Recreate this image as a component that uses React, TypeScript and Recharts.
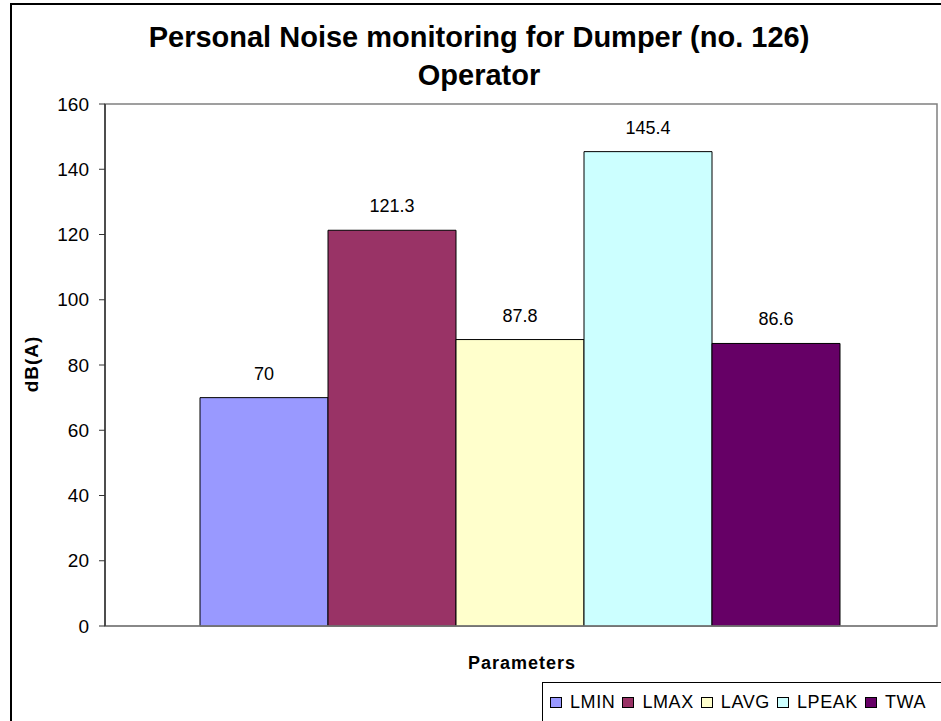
import React from 'react';
import { BarChart, Bar, XAxis, YAxis, LabelList, ReferenceArea } from 'recharts';

const seriesNames = ['LMIN', 'LMAX', 'LAVG', 'LPEAK', 'TWA'];
const seriesValues = [70, 121.3, 87.8, 145.4, 86.6];
const seriesColors = ['#9999FF', '#993366', '#FFFFCC', '#CCFFFF', '#660066'];
const yTicks = [0, 20, 40, 60, 80, 100, 120, 140, 160];
const titleLines = ['Personal Noise monitoring for Dumper (no. 126)', 'Operator'];
const xTitle = 'Parameters';
const yTitle = 'dB(A)';

const row: Record<string, string | number> = { group: 'Parameters' };
seriesNames.forEach((n, i) => {
  row[n] = seriesValues[i];
});
const data = [row];

const FONT = '"Liberation Sans", Arial, sans-serif';

export default function App() {
  return (
    <div
      style={{
        position: 'absolute',
        left: 0,
        top: 0,
        width: 941,
        height: 721,
        overflow: 'hidden',
        background: '#fff',
        fontFamily: FONT,
      }}
    >
      <div
        style={{
          position: 'absolute',
          left: 10,
          top: 3,
          width: 1000,
          height: 1000,
          border: '2px solid #000',
        }}
      />
      {titleLines.map((t, i) => (
        <div
          key={i}
          style={{
            position: 'absolute',
            left: 0,
            width: 958,
            top: 20 + i * 38,
            textAlign: 'center',
            fontSize: 29,
            fontWeight: 'bold',
            lineHeight: '34px',
            color: '#000',
            whiteSpace: 'nowrap',
          }}
        >
          {t}
        </div>
      ))}
      <div style={{ position: 'absolute', left: 0, top: 0 }}>
        <BarChart
          width={941}
          height={721}
          data={data}
          margin={{ top: 104, right: 4, left: 45, bottom: 65 }}
          barCategoryGap={95}
          barGap={0}
        >
          <ReferenceArea
            y1={0}
            y2={160}
            fill="none"
            stroke="#808080"
            strokeWidth={1.5}
            ifOverflow="visible"
          />
          <XAxis
            dataKey="group"
            tick={false}
            tickLine={false}
            axisLine={{ stroke: '#808080', strokeWidth: 1.5 }}
            height={30}
          />
          <YAxis
            domain={[0, 160]}
            ticks={yTicks}
            interval={0}
            width={60}
            tickSize={6}
            tickMargin={10}
            tick={{ fontSize: 19, fill: '#000', fontFamily: FONT }}
            tickLine={{ stroke: '#333' }}
            axisLine={{ stroke: '#333', strokeWidth: 1.5 }}
          />
          {seriesNames.map((n, i) => (
            <Bar
              key={n}
              dataKey={n}
              fill={seriesColors[i]}
              stroke="#000"
              strokeWidth={1}
              isAnimationActive={false}
            >
              <LabelList
                dataKey={n}
                position="top"
                offset={18}
                style={{ fontSize: 18, fill: '#000', fontFamily: FONT }}
              />
            </Bar>
          ))}
        </BarChart>
      </div>
      <div
        style={{
          position: 'absolute',
          left: 382,
          top: 651,
          width: 280,
          textAlign: 'center',
          fontSize: 18,
          fontWeight: 'bold',
          letterSpacing: 1,
          lineHeight: '24px',
        }}
      >
        {xTitle}
      </div>
      <div
        style={{
          position: 'absolute',
          left: 32,
          top: 364,
          transform: 'translate(-50%, -50%) rotate(-90deg)',
          fontSize: 19,
          fontWeight: 'bold',
          letterSpacing: 1,
          lineHeight: '24px',
          whiteSpace: 'nowrap',
        }}
      >
        {yTitle}
      </div>
      <div
        style={{
          position: 'absolute',
          left: 542,
          top: 682,
          width: 500,
          height: 60,
          border: '1px solid #000',
          boxSizing: 'border-box',
        }}
      >
        <div
          style={{
            position: 'absolute',
            left: 7,
            top: 7,
            display: 'flex',
            alignItems: 'center',
            whiteSpace: 'nowrap',
          }}
        >
          {seriesNames.map((n, i) => (
            <div key={n} style={{ display: 'flex', alignItems: 'center', marginRight: 7 }}>
              <div
                style={{
                  width: 12,
                  height: 11,
                  background: seriesColors[i],
                  border: '1px solid #000',
                  boxSizing: 'border-box',
                  marginRight: 8,
                }}
              />
              <span style={{ fontSize: 18, letterSpacing: 0.6, lineHeight: '24px' }}>{n}</span>
            </div>
          ))}
        </div>
      </div>
    </div>
  );
}
